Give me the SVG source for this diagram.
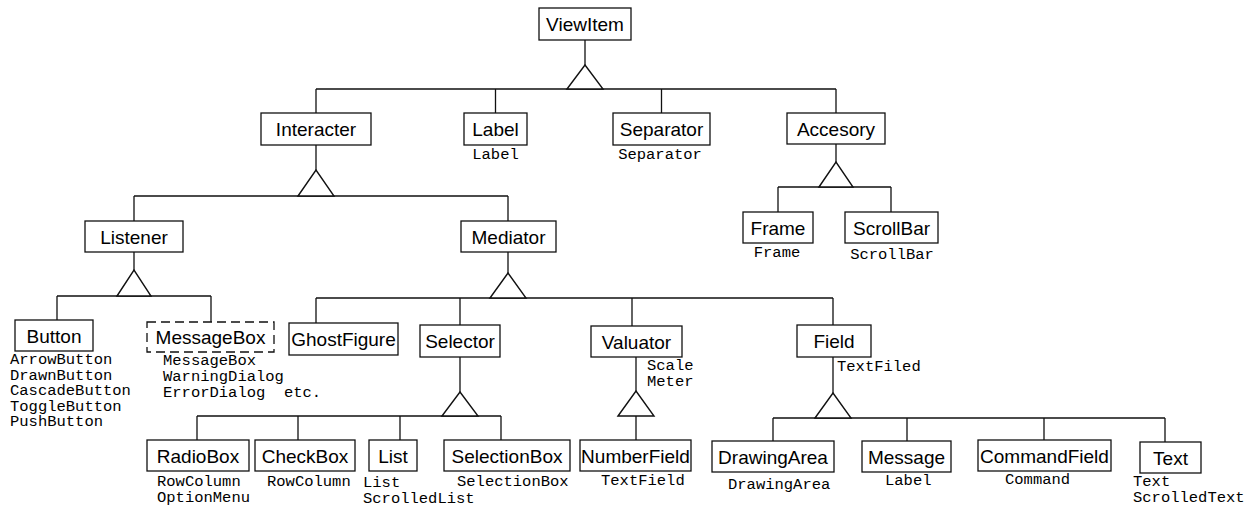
<svg xmlns="http://www.w3.org/2000/svg" width="1252" height="507" viewBox="0 0 1252 507">
<style>
.box{fill:#fff;stroke:#111;stroke-width:1.3}
.dash{stroke-dasharray:9 5}
.t{font-family:"Liberation Sans",Arial,sans-serif;font-size:19px;text-anchor:middle;fill:#000}
.m{font-family:"Liberation Mono","Courier New",monospace;font-size:15.5px;fill:#000}
.mc{text-anchor:middle}
.c{fill:none;stroke:#111;stroke-width:1.3}
.tri{fill:#fff;stroke:#111;stroke-width:1.4;stroke-linejoin:miter}
</style>
<rect width="1252" height="507" fill="#fff"/>
<g id="connectors">
<path class="c" d="M585 40V65M316 89H836M316 89V113M495.5 89V113M661.5 89V113M836 89V113"/>
<polygon class="tri" points="567,89 585,65 603,89"/>
<path class="c" d="M316 145V170M134 196H508M134 196V221M508 196V221"/>
<polygon class="tri" points="298,196 316,170 334,196"/>
<path class="c" d="M836 144V162M778 187H891M778 187V212M891 187V212"/>
<polygon class="tri" points="819,187 836,162 853,187"/>
<path class="c" d="M134 252V270M57 296H211M57 296V320M211 296V322"/>
<polygon class="tri" points="117,296 134,270 151,296"/>
<path class="c" d="M508 252V273M316 298H833M316 298V323M460 298V325M632 298V326M833 298V325"/>
<polygon class="tri" points="490,298 508,273 526,298"/>
<path class="c" d="M460 357V392M197 416H501M197 416V440M298 416V440M400 416V440M501 416V440"/>
<polygon class="tri" points="442,416 460,392 478,416"/>
<path class="c" d="M636 357V391M636 416V440"/>
<polygon class="tri" points="618,416 636,391 654,416"/>
<path class="c" d="M833 357V393M773 418H1165M773 418V441M907 418V441M1044 418V440M1165 418V442"/>
<polygon class="tri" points="815,418 833,393 851,418"/>
</g>
<g id="viewitem"><rect class="box" x="539" y="8" width="92" height="32"/><text class="t" x="585" y="31">ViewItem</text></g>
<g id="interacter"><rect class="box" x="261" y="113" width="110" height="32"/><text class="t" x="316" y="136">Interacter</text></g>
<g id="label"><rect class="box" x="464" y="113" width="63" height="32"/><text class="t" x="495.5" y="136">Label</text><text class="m mc" x="495.5" y="159">Label</text></g>
<g id="separator"><rect class="box" x="613" y="113" width="97" height="32"/><text class="t" x="661.5" y="136">Separator</text><text class="m mc" x="660" y="159">Separator</text></g>
<g id="accesory"><rect class="box" x="787" y="113" width="98" height="31"/><text class="t" x="836" y="136">Accesory</text></g>
<g id="frame"><rect class="box" x="743" y="212" width="70" height="31"/><text class="t" x="778" y="235">Frame</text><text class="m mc" x="777" y="257">Frame</text></g>
<g id="scrollbar"><rect class="box" x="845" y="212" width="93" height="31"/><text class="t" x="891.5" y="235">ScrollBar</text><text class="m mc" x="892" y="259">ScrollBar</text></g>
<g id="listener"><rect class="box" x="85" y="221" width="98" height="31"/><text class="t" x="134" y="244">Listener</text></g>
<g id="mediator"><rect class="box" x="461" y="221" width="95" height="31"/><text class="t" x="508.5" y="244">Mediator</text></g>
<g id="button"><rect class="box" x="15" y="320" width="78" height="31"/><text class="t" x="54" y="343">Button</text>
<text class="m" x="10" y="364">ArrowButton</text><text class="m" x="10" y="379.5">DrawnButton</text><text class="m" x="10" y="395">CascadeButton</text><text class="m" x="10" y="410.5">ToggleButton</text><text class="m" x="10" y="426">PushButton</text></g>
<g id="messagebox"><rect class="box dash" x="147" y="322" width="127" height="30"/><text class="t" x="210.5" y="344">MessageBox</text>
<text class="m" x="163" y="365">MessageBox</text><text class="m" x="163" y="381">WarningDialog</text><text class="m" x="163" y="397" xml:space="preserve">ErrorDialog  etc.</text></g>
<g id="ghostfigure"><rect class="box" x="289" y="323" width="109" height="32"/><text class="t" x="343.5" y="346">GhostFigure</text></g>
<g id="selector"><rect class="box" x="420" y="325" width="80" height="32"/><text class="t" x="460" y="348">Selector</text></g>
<g id="valuator"><rect class="box" x="591" y="326" width="91" height="31"/><text class="t" x="636.5" y="349">Valuator</text><text class="m" x="647" y="370">Scale</text><text class="m" x="647" y="386">Meter</text></g>
<g id="field"><rect class="box" x="797" y="325" width="74" height="32"/><text class="t" x="834" y="348">Field</text><text class="m" x="837" y="371">TextFiled</text></g>
<g id="radiobox"><rect class="box" x="147" y="440" width="102" height="31"/><text class="t" x="198" y="463">RadioBox</text><text class="m" x="157" y="486">RowColumn</text><text class="m" x="157" y="502">OptionMenu</text></g>
<g id="checkbox"><rect class="box" x="255" y="440" width="100" height="31"/><text class="t" x="305" y="463">CheckBox</text><text class="m" x="267" y="486">RowColumn</text></g>
<g id="list"><rect class="box" x="369" y="440" width="48" height="31"/><text class="t" x="393" y="463">List</text><text class="m" x="363" y="487">List</text><text class="m" x="363" y="503">ScrolledList</text></g>
<g id="selectionbox"><rect class="box" x="444" y="440" width="126" height="31"/><text class="t" x="507" y="463">SelectionBox</text><text class="m" x="457" y="486">SelectionBox</text></g>
<g id="numberfield"><rect class="box" x="580" y="440" width="111" height="31"/><text class="t" x="635.5" y="463">NumberField</text><text class="m" x="601" y="485">TextField</text></g>
<g id="drawingarea"><rect class="box" x="712" y="441" width="122" height="31"/><text class="t" x="773" y="464">DrawingArea</text><text class="m" x="728" y="489">DrawingArea</text></g>
<g id="message"><rect class="box" x="862" y="441" width="89" height="31"/><text class="t" x="906.5" y="464">Message</text><text class="m" x="885" y="485">Label</text></g>
<g id="commandfield"><rect class="box" x="978" y="440" width="133" height="31"/><text class="t" x="1044.5" y="463">CommandField</text><text class="m" x="1005" y="484">Command</text></g>
<g id="text"><rect class="box" x="1140" y="442" width="61" height="31"/><text class="t" x="1170.5" y="465">Text</text><text class="m" x="1133" y="486">Text</text><text class="m" x="1133" y="502">ScrolledText</text></g>
</svg>
